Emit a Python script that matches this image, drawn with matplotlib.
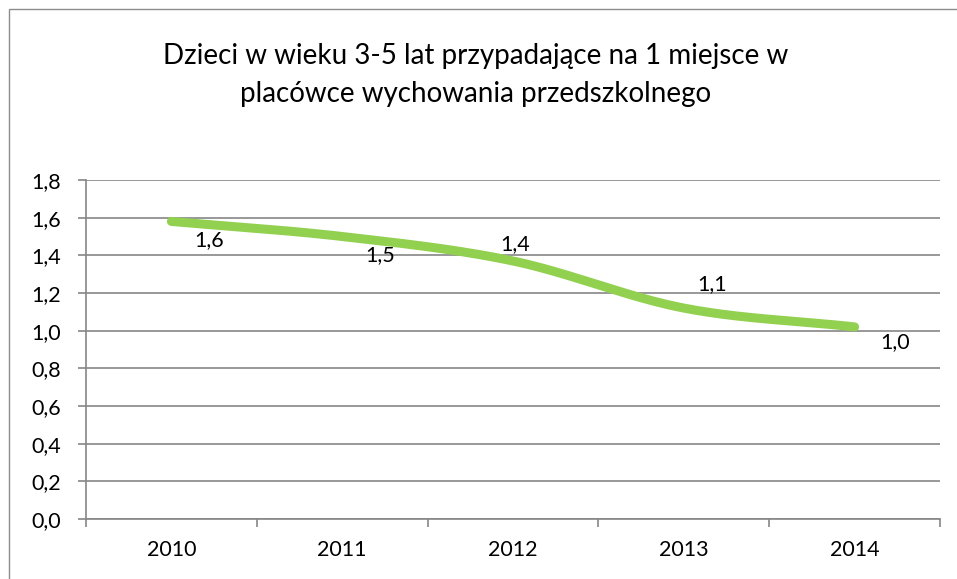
import numpy as np
import matplotlib
matplotlib.use("Agg")
import matplotlib.pyplot as plt
from matplotlib.patches import Rectangle

years = ["2010", "2011", "2012", "2013", "2014"]
values = [1.58, 1.50, 1.37, 1.12, 1.02]
labels = ["1,6", "1,5", "1,4", "1,1", "1,0"]
label_offsets = [(38, -19), (38, -19), (2, 17), (28, 24), (41, -15)]  # pixels
yticks = [0.0, 0.2, 0.4, 0.6, 0.8, 1.0, 1.2, 1.4, 1.6, 1.8]
ytick_labels = [f"{v:.1f}".replace(".", ",") for v in yticks]
title = "Dzieci w wieku 3-5 lat przypadające na 1 miejsce w\nplacówce wychowania przedszkolnego"

W, H = 957, 579
DPI = 100
plt.rcParams['font.family'] = ['Lato', 'DejaVu Sans']
fig = plt.figure(figsize=(W / DPI, H / DPI), dpi=DPI)
fig.patches.append(Rectangle((9 / W, -0.1), 1.2, 1 - 9 / H + 0.1, transform=fig.transFigure,
                             fill=False, edgecolor="#8c8c8c", linewidth=1.0))

ax = fig.add_axes([86 / W, 1 - 519 / H, (940 - 86) / W, (519 - 180) / H])
x = np.arange(len(years))

# Catmull-Rom smoothing (like Excel smoothed line)
def catmull(xs, ys, n=40):
    px = np.concatenate([[2 * xs[0] - xs[1]], xs, [2 * xs[-1] - xs[-2]]])
    py = np.concatenate([[2 * ys[0] - ys[1]], ys, [2 * ys[-1] - ys[-2]]])
    outx, outy = [], []
    t = np.linspace(0, 1, n)
    for i in range(1, len(px) - 2):
        p0, p1, p2, p3 = (np.array([px[j], py[j]]) for j in range(i - 1, i + 3))
        b0 = p1
        b1 = p1 + (p2 - p0) / 6
        b2 = p2 - (p3 - p1) / 6
        b3 = p2
        for tt in t:
            pt = ((1 - tt) ** 3) * b0 + 3 * ((1 - tt) ** 2) * tt * b1 + 3 * (1 - tt) * tt ** 2 * b2 + tt ** 3 * b3
            outx.append(pt[0]); outy.append(pt[1])
    return np.array(outx), np.array(outy)

sx, sy = catmull(x.astype(float), np.array(values, dtype=float))
ax.plot(sx, sy, color="#92D050", linewidth=6.5, solid_capstyle="round", zorder=3)

for xi, v, lab, (dx, dy) in zip(x, values, labels, label_offsets):
    ax.annotate(lab, (xi, v), xytext=(dx * 0.72, dy * 0.72), textcoords="offset points",
                ha="center", va="center", fontsize=15.5, color="black", zorder=4)

ax.set_xlim(-0.5, len(years) - 0.5)
ax.set_ylim(0, 1.8)
ax.set_yticks(yticks)
ax.set_yticklabels(ytick_labels, fontsize=15.5)
ax.yaxis.grid(True, color="#868686", linewidth=1.2)
ax.set_axisbelow(True)

ax.set_xticks(x)
ax.set_xticklabels(years, fontsize=15.5)
ax.set_xticks(np.arange(-0.5, len(years)), minor=True)
ax.tick_params(axis="x", which="major", length=0, pad=15)
ax.tick_params(axis="x", which="minor", length=6, width=1.2, color="#868686", direction="out")
ax.tick_params(axis="y", length=6, width=1.2, color="#868686", pad=12)

for s in ["top", "right"]:
    ax.spines[s].set_visible(False)
for s in ["left", "bottom"]:
    ax.spines[s].set_color("#868686")
    ax.spines[s].set_linewidth(1.2)

fig.text(476 / W, 1 - 75 / H, title, ha="center", va="center", fontsize=20, linespacing=1.55)

fig.savefig("out.png", dpi=DPI)
